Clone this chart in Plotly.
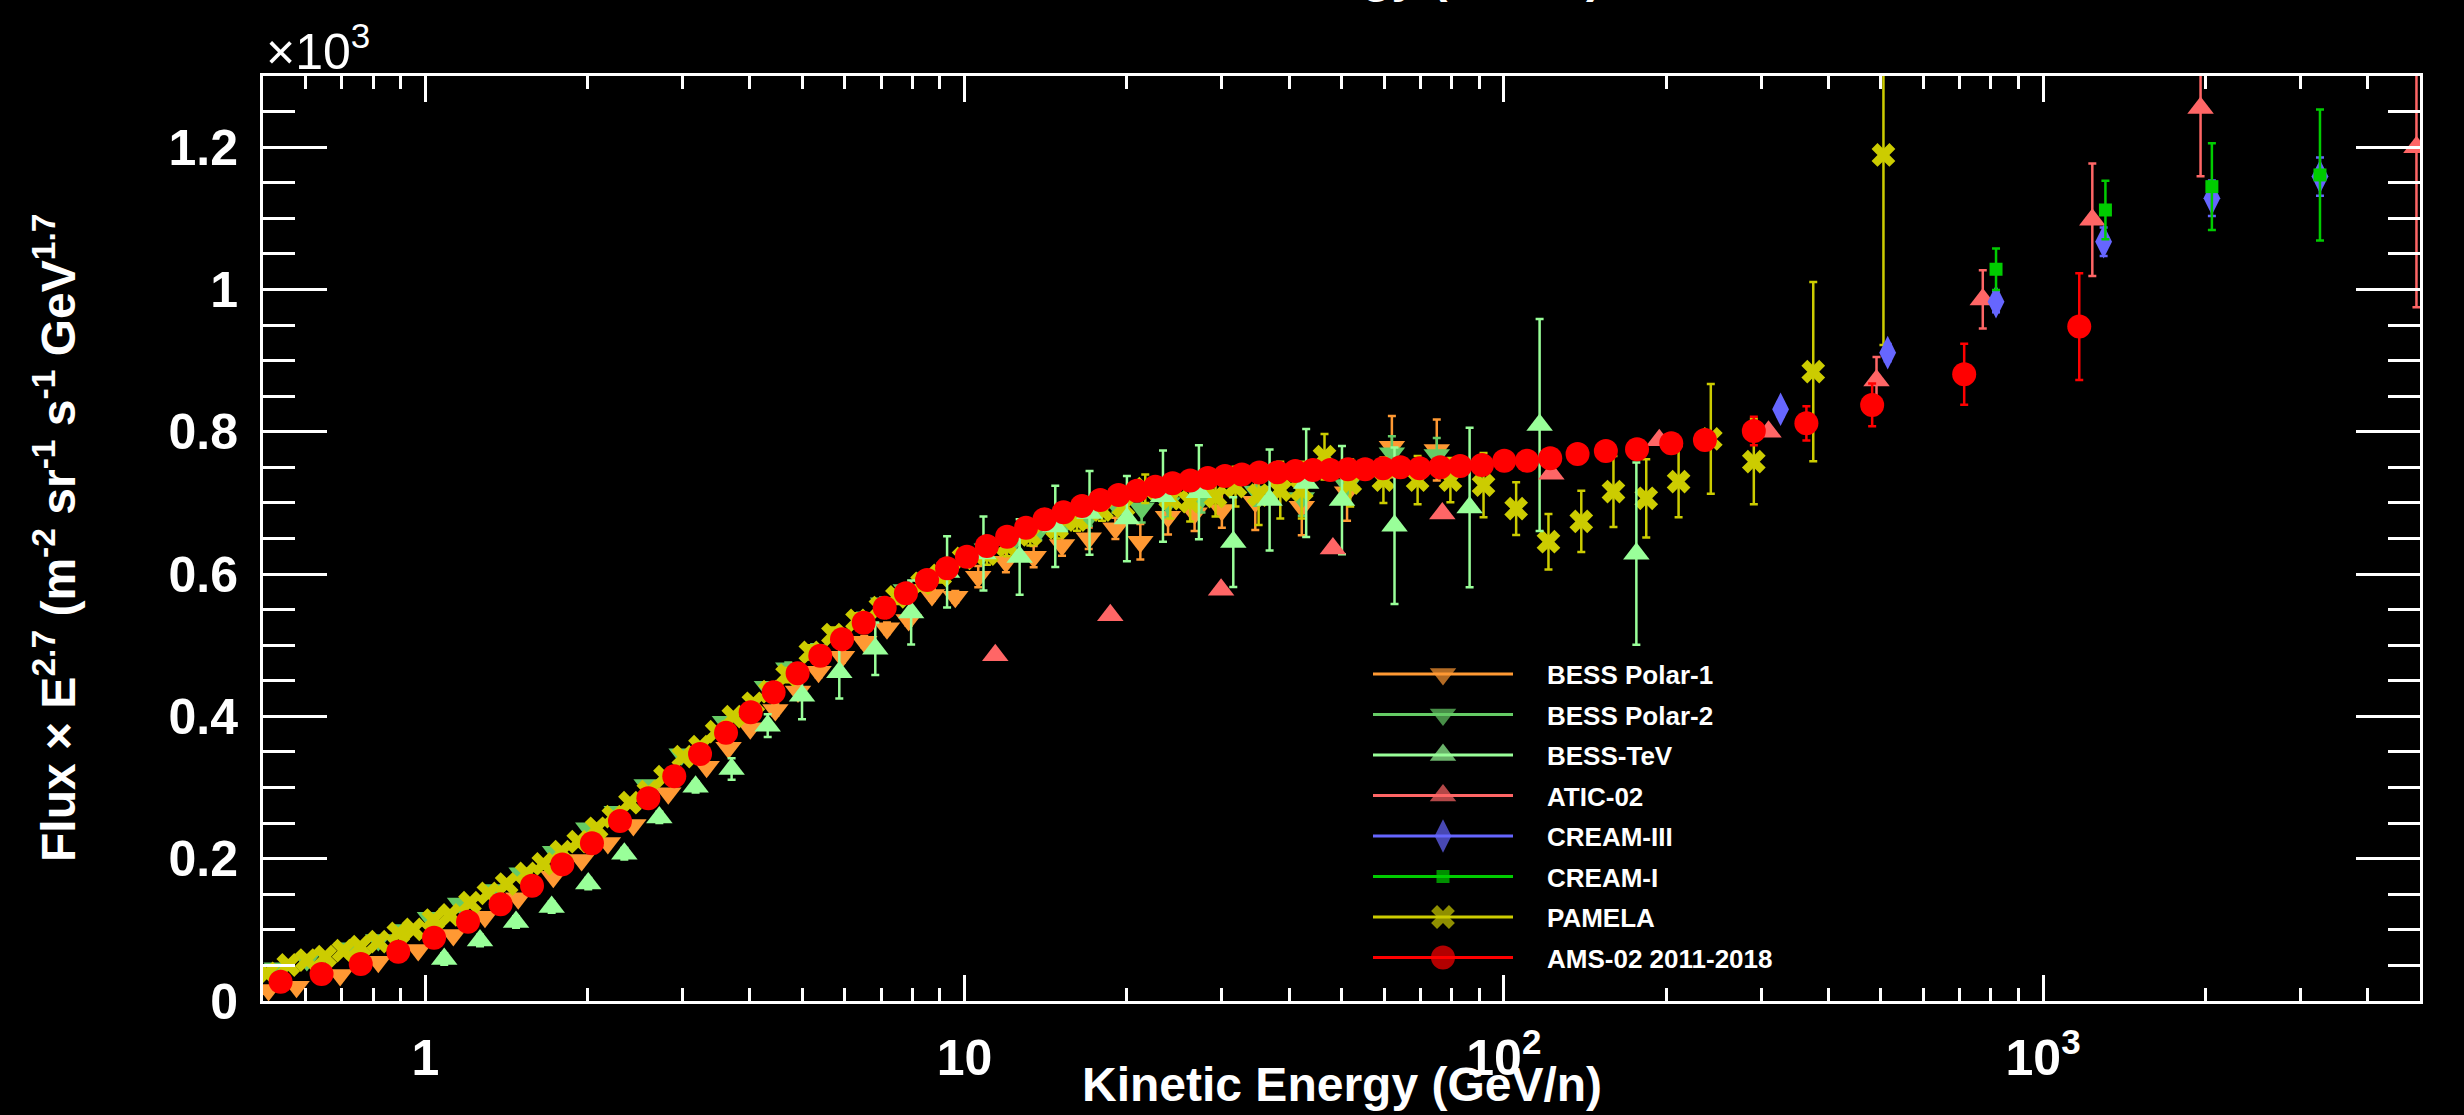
import math
import plotly.graph_objects as go

# Proton flux multiplied by E^2.7, in units of 10^3 m^-2 sr^-1 s^-1 GeV^1.7,
# versus kinetic energy per nucleon (GeV/n).

bess_polar1_energy = [0.512, 0.577, 0.695, 0.818, 0.970, 1.127, 1.290, 1.487, 1.727, 1.949,
                      2.18, 2.431, 2.822, 3.324, 3.65, 4.005, 4.457, 4.91, 5.36, 5.925,
                      6.516, 7.18, 7.875, 8.70, 9.61, 10.6, 11.93, 13.43, 15.16, 16.99,
                      19.04, 21.18, 23.84, 26.7, 30.0, 34.6, 42.2, 51.2, 62.0, 75.1]
bess_polar1_flux = [0.0155, 0.0201, 0.0365, 0.0553, 0.0717, 0.0928, 0.1185, 0.1443, 0.1747, 0.1982,
                    0.222, 0.2474, 0.2919, 0.3293, 0.356, 0.3832, 0.409, 0.435, 0.4629, 0.4839,
                    0.505, 0.5238, 0.5355, 0.5706, 0.5682, 0.5964, 0.6174, 0.6245, 0.6409, 0.6503,
                    0.6643, 0.6455, 0.6807, 0.6854, 0.690, 0.7018, 0.6947, 0.715, 0.779, 0.7744]
bess_polar1_err = [0.003, 0.003, 0.003, 0.003, 0.003, 0.003, 0.003, 0.003, 0.003, 0.003,
                   0.003, 0.003, 0.003, 0.003, 0.003, 0.003, 0.008, 0.008, 0.008, 0.008,
                   0.008, 0.008, 0.008, 0.008, 0.008, 0.015, 0.015, 0.015, 0.015, 0.015,
                   0.015, 0.025, 0.025, 0.025, 0.025, 0.04, 0.04, 0.04, 0.043, 0.043]

bess_polar2_energy = [0.530, 0.603, 0.715, 0.818, 0.910, 1.020, 1.160, 1.337, 1.509, 1.740,
                      2.005, 2.264, 2.573, 2.988, 3.594, 4.3, 4.71, 5.26, 5.80, 6.40,
                      7.06, 7.78, 8.59, 9.37, 10.2, 11.0, 12.3, 13.7, 15.3, 17.0,
                      19.04, 21.3, 23.8, 27.5, 34.8, 42.2, 51.2, 62.0, 75.1]
bess_polar2_flux = [0.046, 0.0576, 0.0741, 0.0857, 0.0998, 0.1171, 0.1372, 0.156, 0.1794, 0.2099,
                    0.2427, 0.2661, 0.3036, 0.3467, 0.3926, 0.4418, 0.4676, 0.4933, 0.5144, 0.5378,
                    0.559, 0.5776, 0.5941, 0.6081, 0.6222, 0.635, 0.645, 0.66, 0.67, 0.68,
                    0.6985, 0.6925, 0.70, 0.7065, 0.7159, 0.707, 0.7252, 0.7698, 0.7674]
bess_polar2_err = [0.003, 0.003, 0.003, 0.003, 0.003, 0.003, 0.003, 0.003, 0.003, 0.003,
                   0.003, 0.003, 0.003, 0.003, 0.003, 0.003, 0.008, 0.008, 0.008, 0.008,
                   0.008, 0.008, 0.008, 0.008, 0.008, 0.012, 0.012, 0.012, 0.012, 0.012,
                   0.012, 0.02, 0.02, 0.02, 0.02, 0.025, 0.025, 0.024, 0.024]

bess_tev_energy = [1.084, 1.263, 1.473, 1.715, 2.005, 2.339, 2.716, 3.171, 3.698, 4.314,
                   4.995, 5.857, 6.83, 7.96, 9.28, 10.84, 12.65, 14.73, 17.05, 20.0,
                   23.33, 27.2, 31.5, 36.78, 43.0, 50.1, 62.7, 86.4, 116.5, 176.1]
bess_tev_flux = [0.059, 0.085, 0.111, 0.132, 0.165, 0.207, 0.258, 0.301, 0.326, 0.387,
                 0.429, 0.462, 0.495, 0.546, 0.603, 0.629, 0.624, 0.667, 0.686, 0.678,
                 0.7095, 0.715, 0.645, 0.704, 0.728, 0.704, 0.668, 0.6936, 0.8094, 0.6287]
bess_tev_err = [0.008, 0.008, 0.008, 0.008, 0.008, 0.008, 0.008, 0.008, 0.015, 0.016,
                0.033, 0.037, 0.037, 0.045, 0.05, 0.052, 0.053, 0.057, 0.059, 0.06,
                0.064, 0.066, 0.063, 0.071, 0.076, 0.076, 0.11, 0.112, 0.149, 0.128]

atic02_energy = [11.4, 18.63, 29.9, 48.2, 76.9, 122.5, 194.2, 309.6, 491.0, 773.0, 1234.0, 1959.0, 4925.0]
atic02_flux = [0.486, 0.542, 0.578, 0.636, 0.685, 0.741, 0.788, 0.800, 0.872, 0.986, 1.098, 1.255, 1.200]
atic02_err = [0.004, 0.004, 0.004, 0.004, 0.004, 0.004, 0.004, 0.004, 0.033, 0.041, 0.079, 0.096, 0.225]

cream3_energy = [326.0, 515.0, 818.0, 1295.0, 2056.0, 3262.0]
cream3_flux = [0.8316, 0.9112, 0.9829, 1.0672, 1.1283, 1.1586]
cream3_err = [0.010, 0.012, 0.015, 0.020, 0.025, 0.027]

cream1_energy = [818.0, 1305.0, 2056.0, 3262.0]
cream1_flux = [1.0284, 1.1117, 1.1445, 1.1609]
cream1_err = [0.029, 0.041, 0.061, 0.092]

pamela_energy = [0.508, 0.557, 0.603, 0.652, 0.705, 0.757, 0.818, 0.891, 0.950, 1.035,
                 1.111, 1.210, 1.309, 1.415, 1.541, 1.655, 1.789, 1.921, 2.078, 2.232,
                 2.396, 2.592, 2.782, 3.009, 3.231, 3.469, 3.725, 4.058, 4.356, 4.686,
                 5.176, 5.7, 6.317, 6.98, 7.49, 8.34, 9.01, 9.96, 11.0, 11.99,
                 13.24, 14.84, 16.16, 17.98, 19.71, 21.63, 24.07, 26.2, 29.2, 31.8,
                 35.1, 38.5, 42.2, 46.5, 51.9, 59.8, 69.2, 79.6, 91.7, 105.4,
                 121.0, 139.2, 159.7, 183.7, 210.9, 242.0, 290.8, 374.8, 505.8]
pamela_flux = [0.0389, 0.0506, 0.0576, 0.0623, 0.0707, 0.0764, 0.0834, 0.0951, 0.1007, 0.1138,
               0.1209, 0.1382, 0.1513, 0.1644, 0.1794, 0.1926, 0.2099, 0.2239, 0.2427, 0.2591,
               0.2787, 0.2942, 0.3153, 0.3434, 0.3574, 0.3785, 0.3996, 0.4184, 0.4347, 0.458,
               0.49, 0.515, 0.535, 0.553, 0.568, 0.587, 0.598, 0.622, 0.628, 0.64,
               0.655, 0.665, 0.676, 0.69, 0.695, 0.72, 0.706, 0.702, 0.709, 0.723,
               0.711, 0.718, 0.718, 0.765, 0.728, 0.732, 0.732, 0.732, 0.725, 0.692,
               0.6455, 0.674, 0.716, 0.7065, 0.730, 0.790, 0.758, 0.8845, 1.189]
pamela_err = [0.004, 0.004, 0.004, 0.004, 0.004, 0.004, 0.004, 0.004, 0.004, 0.004,
              0.004, 0.004, 0.004, 0.004, 0.004, 0.004, 0.004, 0.004, 0.004, 0.004,
              0.004, 0.004, 0.004, 0.004, 0.004, 0.004, 0.004, 0.004, 0.004, 0.01,
              0.01, 0.01, 0.01, 0.01, 0.01, 0.01, 0.01, 0.01, 0.015, 0.015,
              0.015, 0.015, 0.015, 0.015, 0.015, 0.02, 0.028, 0.028, 0.028, 0.028,
              0.042, 0.04, 0.04, 0.032, 0.033, 0.032, 0.034, 0.031, 0.045, 0.037,
              0.039, 0.043, 0.05, 0.055, 0.05, 0.077, 0.06, 0.126, 0.267]

ams02_energy = [0.539, 0.642, 0.759, 0.891, 1.038, 1.20, 1.379, 1.577, 1.795, 2.037,
                2.296, 2.592, 2.895, 3.232, 3.611, 4.012, 4.425, 4.902, 5.40, 5.925,
                6.50, 7.11, 7.785, 8.52, 9.28, 10.10, 11.00, 11.99, 13.0, 14.07,
                15.26, 16.51, 17.85, 19.30, 20.88, 22.58, 24.31, 26.21, 28.25, 30.4,
                32.68, 35.2, 38.06, 41.05, 44.26, 47.66, 51.4, 55.3, 59.7, 64.3,
                69.8, 76.2, 83.0, 91.1, 100.2, 110.4, 121.9, 137.0, 154.6, 176.6,
                204.4, 236.0, 290.8, 364.0, 482.0, 714.0, 1167.0]
ams02_flux = [0.0271, 0.038, 0.052, 0.0693, 0.089, 0.1115, 0.136, 0.162, 0.192, 0.2216,
              0.253, 0.285, 0.316, 0.347, 0.377, 0.4057, 0.4338, 0.4605, 0.4853, 0.5083,
              0.5317, 0.5528, 0.573, 0.5917, 0.6081, 0.6245, 0.6395, 0.6526, 0.6652, 0.677,
              0.6868, 0.6957, 0.7041, 0.7112, 0.7172, 0.7229, 0.7276, 0.7315, 0.735, 0.7379,
              0.7398, 0.7428, 0.743, 0.7449, 0.7463, 0.7463, 0.7473, 0.7473, 0.7487, 0.7501,
              0.7487, 0.7501, 0.7519, 0.7533, 0.7594, 0.7594, 0.7627, 0.7688, 0.773, 0.7754,
              0.7838, 0.7885, 0.8011, 0.8119, 0.8377, 0.8808, 0.9478]
ams02_err = [0.0] * 54 + [0.004, 0.004, 0.004, 0.004, 0.004, 0.004, 0.004,
                          0.01, 0.02, 0.024, 0.03, 0.043, 0.075]

# Experiment names as listed in the key, top to bottom
legend_names = ["BESS Polar-1", "BESS Polar-2", "BESS-TeV", "ATIC-02",
                "CREAM-III", "CREAM-I", "PAMELA", "AMS-02 2011-2018"]

# Marker style per experiment: (color, symbol, size)
styles = {
    "BESS Polar-1": ("#FF9933", "triangle-down", 23),
    "BESS Polar-2": ("#66CC66", "triangle-down", 23),
    "BESS-TeV": ("#99FF99", "triangle-up", 23),
    "ATIC-02": ("#FF6666", "triangle-up", 23),
    "CREAM-III": ("#6666FF", "diamond-tall", 24),
    "CREAM-I": ("#00CC00", "square", 13),
    "PAMELA": ("#CCCC00", "x", 21),
    "AMS-02 2011-2018": ("#FF0000", "circle", 24),
}

# Drawing order (later entries sit on top)
datasets = {
    "BESS Polar-1": (bess_polar1_energy, bess_polar1_flux, bess_polar1_err),
    "BESS Polar-2": (bess_polar2_energy, bess_polar2_flux, bess_polar2_err),
    "PAMELA": (pamela_energy, pamela_flux, pamela_err),
    "BESS-TeV": (bess_tev_energy, bess_tev_flux, bess_tev_err),
    "ATIC-02": (atic02_energy, atic02_flux, atic02_err),
    "CREAM-III": (cream3_energy, cream3_flux, cream3_err),
    "CREAM-I": (cream1_energy, cream1_flux, cream1_err),
    "AMS-02 2011-2018": (ams02_energy, ams02_flux, ams02_err),
}

x_major_vals = [1, 10, 100, 1000]
x_major_text = ["1", "10", "10<sup>2</sup>", "10<sup>3</sup>"]

FONT = "Liberation Sans, Arial, Helvetica, sans-serif"
W, H = 2464, 1115
L, R, T, B = 263, 44, 76, 114
PW, PH = W - L - R, H - T - B


def paper_x(px):
    return (px - L) / PW


def paper_y(py):
    return (H - B - py) / PH


fig = go.Figure()

for name, (energy, flux, err) in datasets.items():
    color, symbol, size = styles[name]
    fig.add_trace(go.Scatter(
        x=energy, y=flux, mode="markers", name=name, showlegend=False,
        marker=dict(color=color, symbol=symbol, size=size, line=dict(width=0)),
        error_y=dict(type="data", array=err, visible=True, color=color,
                     thickness=2.5, width=4),
    ))

# Key: colored line segment with the marker in its middle, text to the right
key_y0, key_dy = 674, 40.5
key_x0, key_x1, key_xm, key_xt = 1373, 1513, 1443, 1545
shapes = []
annotations = []
key_x, key_y, key_sym, key_col, key_size = [], [], [], [], []
for i, name in enumerate(legend_names):
    color, symbol, size = styles[name]
    yy = key_y0 + i * key_dy
    shapes.append(dict(type="line", xref="x2", yref="y2", x0=key_x0, x1=key_x1,
                       y0=yy, y1=yy, line=dict(color=color, width=3), layer="above"))
    key_x.append(key_xm)
    key_y.append(yy)
    key_sym.append(symbol)
    key_col.append(color)
    key_size.append(size)
    annotations.append(dict(xref="x2", yref="y2", x=key_xt, y=yy + 1, text=name,
                            showarrow=False, xanchor="left", yanchor="middle",
                            font=dict(family=FONT, size=26, color="white", weight="bold")))

fig.add_trace(go.Scatter(
    x=key_x, y=key_y, xaxis="x2", yaxis="y2", mode="markers", showlegend=False,
    marker=dict(symbol=key_sym, color=key_col, size=key_size, line=dict(width=0)),
    hoverinfo="skip",
))

title_font = dict(family=FONT, size=48, color="white", weight="bold")
annotations += [
    dict(xref="paper", yref="paper", x=0.5, y=paper_y(1084), text="Kinetic Energy (GeV/n)",
         showarrow=False, xanchor="center", yanchor="middle", font=title_font),
    dict(xref="paper", yref="paper", x=0.5, y=paper_y(-25), text="Kinetic Energy (GeV/n)",
         showarrow=False, xanchor="center", yanchor="middle", font=title_font),
    dict(xref="paper", yref="paper", x=paper_x(55), y=paper_y(538), textangle=-90,
         text="Flux × E<sup>2.7</sup> (m<sup>-2</sup> sr<sup>-1</sup> s<sup>-1</sup> GeV<sup>1.7</sup>",
         showarrow=False, xanchor="center", yanchor="middle", font=title_font),
    dict(xref="paper", yref="paper", x=paper_x(264), y=paper_y(48), text="×10<sup>3</sup>",
         showarrow=False, xanchor="left", yanchor="middle",
         font=dict(family=FONT, size=50, color="white")),
]

x_minor = [m * 10 ** k for k in range(-1, 4) for m in range(2, 10)
           if 0.5 < m * 10 ** k < 5000]

axis_common = dict(showline=True, linecolor="white", linewidth=3, mirror="ticks",
                   ticks="inside", tickcolor="white", tickwidth=3, showgrid=False,
                   zeroline=False)

fig.update_layout(
    width=W, height=H,
    margin=dict(l=L, r=R, t=T, b=B, pad=0),
    paper_bgcolor="black", plot_bgcolor="black",
    showlegend=False,
    xaxis=dict(type="log", range=[math.log10(0.5), math.log10(5000)],
               tickmode="array", tickvals=x_major_vals, ticktext=x_major_text,
               ticklen=26, ticklabelstandoff=11,
               tickfont=dict(family=FONT, size=50, color="white", weight="bold"),
               minor=dict(tickmode="array", tickvals=x_minor, ticks="inside",
                          ticklen=13, tickwidth=3, tickcolor="white", showgrid=False),
               **axis_common),
    yaxis=dict(range=[0, 1.3], tickmode="linear", tick0=0, dtick=0.2,
               ticklen=64, ticklabelstandoff=12,
               tickfont=dict(family=FONT, size=50, color="white", weight="bold"),
               minor=dict(dtick=0.05, tick0=0, ticks="inside", ticklen=32,
                          tickwidth=3, tickcolor="white", showgrid=False),
               **axis_common),
    xaxis2=dict(overlaying="x", anchor="y2", range=[L, W - R], visible=False),
    yaxis2=dict(overlaying="y", anchor="x2", range=[H - B, T], visible=False),
    shapes=shapes,
    annotations=annotations,
)

fig.write_html("out.html", config={"displayModeBar": False})
